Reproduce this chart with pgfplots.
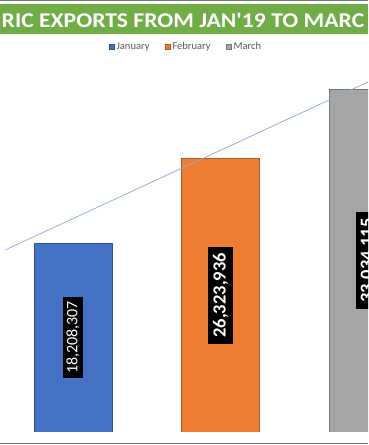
\documentclass[border=0pt]{standalone}
\usepackage{pgfplots}
\pgfplotsset{compat=1.18}
\usepackage{fontspec}
\setmainfont{Carlito}[Ligatures=TeXOff]
\definecolor{janc}{HTML}{4472C4}
\definecolor{jane}{HTML}{2F528F}
\definecolor{febc}{HTML}{ED7D31}
\definecolor{febe}{HTML}{AE5A21}
\definecolor{marc}{HTML}{A5A5A5}
\definecolor{mare}{HTML}{787878}
\definecolor{titlegreen}{HTML}{70AD47}
\definecolor{framegray}{HTML}{767676}
\definecolor{textgray}{HTML}{595959}
\definecolor{trend}{HTML}{8FAADC}
\begin{document}
\begin{tikzpicture}[x=1pt,y=1pt]
\path[use as bounding box] (0,0) rectangle (368,445);
\begin{scope}
\clip (0,0) rectangle (368,445);
\fill[white] (0,0) rectangle (368,445);
\draw[framegray, line width=1.3pt] (0,444.3) -- (368,444.3);
\fill[titlegreen] (0,411) rectangle (368,441);
\node[white, font=\bfseries\fontsize{21}{24}\selectfont, anchor=west, inner sep=0pt, xscale=1.125] at (1.5,425) {RIC EXPORTS FROM JAN'19 TO MARC};
\draw[framegray, line width=1.3pt] (0,1.3) -- (368,1.3);
\begin{axis}[
  at={(0pt,13pt)}, anchor=south west,
  width=368pt, height=372pt, scale only axis,
  xmin=-0.495, xmax=2.0, ymin=0, ymax=35.84e6,
  axis lines=none, clip=true,
  legend columns=3,
  legend style={at={(rel axis cs:0.505,1.035)}, anchor=center, draw=none, fill=none,
    font=\fontsize{10.5}{12}\selectfont, text=textgray,
    /tikz/every even column/.append style={column sep=13pt},
    inner sep=0pt},
  legend image code/.code={\draw[#1, line width=0.6pt] (0pt,-2.7pt) rectangle (5.4pt,2.7pt);},
]
\addplot[ybar, bar width=78pt, bar shift=0pt, fill=janc, draw=jane, line width=0.6pt] coordinates {(0,18208307)};
\addlegendentry{January}
\addplot[ybar, bar width=78pt, bar shift=0pt, fill=febc, draw=febe, line width=0.6pt] coordinates {(1,26323936)};
\addlegendentry{February}
\addplot[ybar, bar width=78pt, bar shift=0pt, fill=marc, draw=mare, line width=0.6pt] coordinates {(2,33034115)};
\addlegendentry{March}
\addplot[trend, line width=0.7pt, forget plot] coordinates {(-0.461,17.53e6) (2.0,33.72e6)};
\node[fill=black, text=white, rotate=90, font=\fontsize{16}{18}\selectfont, inner xsep=4pt, inner ysep=3.5pt] at (axis cs:0,9104153.5) {18,208,307};
\node[fill=black, text=white, rotate=90, font=\bfseries\fontsize{18.5}{20}\selectfont, inner xsep=6pt, inner ysep=5pt] at (axis cs:1,13161968) {26,323,936};
\node[fill=black, text=white, rotate=90, font=\bfseries\fontsize{18.5}{20}\selectfont, inner xsep=6pt, inner ysep=5pt] at (axis cs:2,16517057.5) {33,034,115};
\end{axis}
\end{scope}
\end{tikzpicture}
\end{document}
